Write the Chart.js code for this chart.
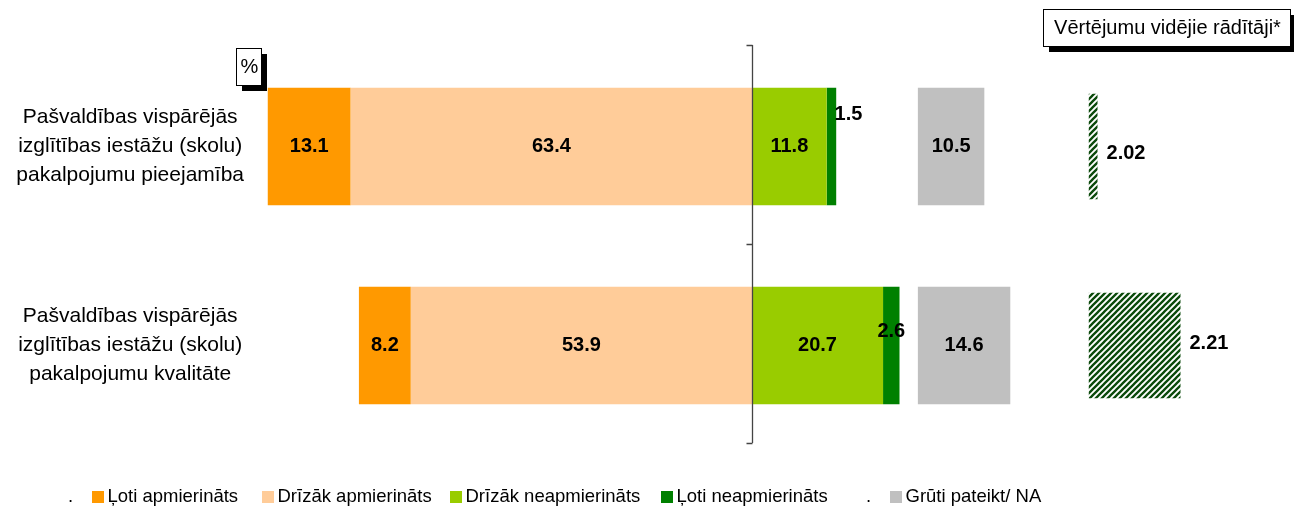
<!DOCTYPE html>
<html lang="lv">
<head>
<meta charset="utf-8">
<title>Vērtējumi</title>
<style>
  body { margin: 0; background: #fff; }
  #c { display: block; }
</style>
</head>
<body>
<canvas id="c" width="1294" height="507"></canvas>
<script src="https://cdn.jsdelivr.net/npm/chart.js@4.4.1/dist/chart.umd.min.js"></script>
<script>
// data
const categories = [
  ["Pašvaldības vispārējās", "izglītības iestāžu (skolu)", "pakalpojumu pieejamība"],
  ["Pašvaldības vispārējās", "izglītības iestāžu (skolu)", "pakalpojumu kvalitāte"]
];
const lotiApm = [13.1, 8.2];
const drizakApm = [63.4, 53.9];
const drizakNeapm = [11.8, 20.7];
const lotiNeapm = [1.5, 2.6];
const gruti = [10.5, 14.6];
const means = [2.02, 2.21];

// placement of the side columns (in axis units)
const NA_START = 26.2;
const MEAN_START = 53.2;
const MEAN_BASE = 2;
const MEAN_UNIT = 69;

const FONT = '"Liberation Sans", Arial, sans-serif';

const canvas = document.getElementById("c");
const ctx = canvas.getContext("2d");

// diagonal hatch for mean bars
const pc = document.createElement("canvas");
pc.width = 6; pc.height = 6;
const p = pc.getContext("2d");
p.fillStyle = "#fff";
p.fillRect(0, 0, 6, 6);
p.strokeStyle = "#0b4a0b";
p.lineWidth = 2.3;
p.beginPath();
p.moveTo(-1, 7); p.lineTo(7, -1);
p.moveTo(-4, 4); p.lineTo(4, -4);
p.moveTo(2, 10); p.lineTo(10, 2);
p.stroke();
const hatch = ctx.createPattern(pc, "repeat");

// legend entries (x = left edge of each entry)
const legendItems = [
  { text: ".", color: null, x: 68 },
  { text: "Ļoti apmierināts", color: "#FF9900", x: 92 },
  { text: "Drīzāk apmierināts", color: "#FFCC99", x: 262 },
  { text: "Drīzāk neapmierināts", color: "#99CC00", x: 450 },
  { text: "Ļoti neapmierināts", color: "#008000", x: 661 },
  { text: ".", color: null, x: 866 },
  { text: "Grūti pateikt/ NA", color: "#C0C0C0", x: 890 }
];

const valueSets = [drizakApm, lotiApm, drizakNeapm, lotiNeapm, gruti, means];

const decor = {
  id: "decor",
  afterDatasetsDraw(chart) {
    const c = chart.ctx;
    const x = chart.scales.x;
    const a = chart.chartArea;
    const x0 = Math.round(x.getPixelForValue(0)) + 0.5;

    // zero line with category ticks
    c.save();
    c.strokeStyle = "#444";
    c.lineWidth = 1.3;
    c.beginPath();
    const top = a.top - 2, bottom = a.bottom - 2;
    c.moveTo(x0, top);
    c.lineTo(x0, bottom);
    const step = (bottom - top) / categories.length;
    for (let i = 0; i <= categories.length; i++) {
      const ty = Math.round(top + i * step) + 0.5;
      c.moveTo(x0 - 6, ty);
      c.lineTo(x0, ty);
    }
    c.stroke();

    // value labels
    c.fillStyle = "#000";
    c.font = "bold 20px " + FONT;
    c.textBaseline = "middle";
    chart.data.datasets.forEach((ds, di) => {
      const meta = chart.getDatasetMeta(di);
      meta.data.forEach((bar, i) => {
        const v = valueSets[di][i];
        const label = di === 5 ? v.toFixed(2) : v.toFixed(1);
        let cx = (bar.x + bar.base) / 2;
        let cy = bar.y;
        if (di === 5) {
          c.textAlign = "left";
          c.fillText(label, Math.max(bar.x, bar.base) + 9, cy + (i === 0 ? 7 : -2));
          return;
        }
        if (di === 3) {
          if (i === 0) { cx += 17; cy -= 32; } else { cy -= 14; }
        }
        c.textAlign = "center";
        c.fillText(label, cx, cy);
      });
    });
    c.restore();
  },
  afterDraw(chart) {
    const c = chart.ctx;
    c.save();
    // boxed titles with shadow
    const box = (bx, by, bw, bh, text) => {
      c.fillStyle = "#000";
      c.fillRect(bx + 6, by + 6, bw, bh);
      c.fillStyle = "#fff";
      c.fillRect(bx, by, bw, bh);
      c.strokeStyle = "#000";
      c.lineWidth = 1;
      c.strokeRect(bx + 0.5, by + 0.5, bw, bh);
      c.fillStyle = "#000";
      c.font = "20px " + FONT;
      c.textAlign = "center";
      c.textBaseline = "middle";
      c.fillText(text, bx + bw / 2 + 1, by + bh / 2 + 1);
    };
    box(236, 48, 25, 37, "%");
    box(1043, 9, 247, 37, "Vērtējumu vidējie rādītāji*");

    // legend
    c.font = "18.5px " + FONT;
    c.textAlign = "left";
    c.textBaseline = "middle";
    const ly = 497;
    legendItems.forEach((it) => {
      c.fillStyle = "#000";
      if (!it.color) {
        c.fillText(it.text, it.x, ly);
        return;
      }
      c.fillText(it.text, it.x + 15.5, ly);
      c.fillStyle = it.color;
      c.fillRect(it.x, ly - 6, 12, 12);
    });
    c.restore();
  }
};

const common = { borderWidth: 0, grouped: false, barPercentage: 0.59, categoryPercentage: 1 };

new Chart(canvas, {
  type: "bar",
  data: {
    labels: categories,
    datasets: [
      { ...common, label: "Drīzāk apmierināts", backgroundColor: "#FFCC99",
        data: drizakApm.map(v => [-v, 0]) },
      { ...common, label: "Ļoti apmierināts", backgroundColor: "#FF9900",
        data: lotiApm.map((v, i) => [-(drizakApm[i] + v), -drizakApm[i]]) },
      { ...common, label: "Drīzāk neapmierināts", backgroundColor: "#99CC00",
        data: drizakNeapm.map(v => [0, v]) },
      { ...common, label: "Ļoti neapmierināts", backgroundColor: "#008000",
        data: lotiNeapm.map((v, i) => [drizakNeapm[i], drizakNeapm[i] + v]) },
      { ...common, label: "Grūti pateikt/ NA", backgroundColor: "#C0C0C0",
        data: gruti.map(v => [NA_START, NA_START + v]) },
      { ...common, label: "Vidējais", backgroundColor: hatch, barPercentage: 0.53,
        data: means.map(v => [MEAN_START, MEAN_START + (v - MEAN_BASE) * MEAN_UNIT]) }
    ]
  },
  options: {
    indexAxis: "y",
    responsive: false,
    devicePixelRatio: 1,
    animation: false,
    layout: { padding: { top: 47, bottom: 62, left: 0, right: 0 } },
    scales: {
      x: { display: false, min: -77.41, max: 85.62 },
      y: {
        afterFit: (s) => { s.width = 262; s.paddingTop = 0; s.paddingBottom = 0; },
        grid: { display: false, drawTicks: false },
        border: { display: false },
        ticks: {
          color: "#000",
          crossAlign: "center",
          padding: 18,
          font: { family: FONT, size: 21, lineHeight: 1.38 }
        }
      }
    },
    plugins: {
      legend: { display: false },
      tooltip: { enabled: false }
    }
  },
  plugins: [decor]
});
</script>
</body>
</html>
